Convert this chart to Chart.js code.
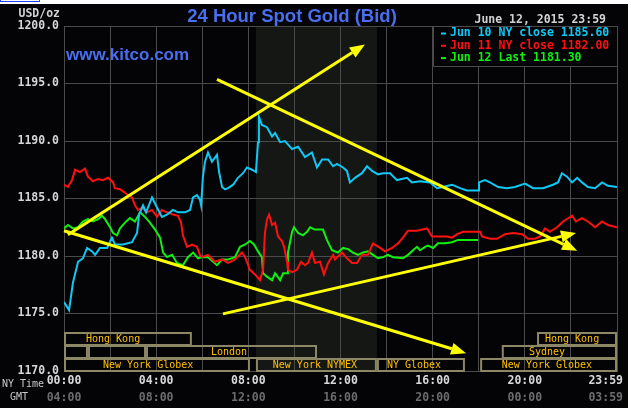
<!DOCTYPE html>
<html>
<head>
<meta charset="utf-8">
<script src="https://cdn.jsdelivr.net/npm/chart.js@4"></script>
<style>
  html, body { margin: 0; padding: 0; background: #ffffff; }
  canvas { display: block; }
</style>
</head>
<body>
<canvas id="goldChart" width="631" height="408"></canvas>
<script>
"use strict";

// Jun 10 NY close (hours NY time / price)
const jun10Times = [0, 0.22, 0.39, 0.61, 0.82, 1.0, 1.22, 1.35, 1.56, 1.87, 2.08, 2.21, 2.56, 2.95, 3.17, 3.26, 3.43, 3.56, 3.82, 4.04,
  4.25, 4.47, 4.73, 4.95, 5.25, 5.47, 5.6, 5.77, 5.9, 5.95, 6.03, 6.12, 6.25, 6.42, 6.64, 6.73, 6.86, 6.99, 7.12, 7.34,
  7.55, 7.77, 7.94, 8.16, 8.33, 8.42, 8.46, 8.59, 8.81, 9.03, 9.16, 9.38, 9.59, 9.9, 10.16, 10.46, 10.76, 10.98, 11.2, 11.46,
  11.68, 11.85, 12.11, 12.28, 12.41, 12.63, 12.93, 13.15, 13.37, 13.63, 13.85, 14.15, 14.45, 14.89, 15.1, 15.45, 15.89, 16.19, 16.45, 16.84,
  17.19, 17.49, 17.97, 18.01, 18.27, 18.49, 18.84, 19.23, 19.57, 20.01, 20.36, 20.79, 21.22, 21.44, 21.61, 21.83, 22.05, 22.27, 22.48, 22.74,
  23.05, 23.35, 23.61, 24];
const jun10Prices = [1176.0, 1175.3, 1177.7, 1179.5, 1179.8, 1180.7, 1180.4, 1180.1, 1180.7, 1180.7, 1181.6, 1181.0, 1181.0, 1181.2, 1182.0, 1183.6, 1184.4, 1183.8, 1185.1, 1184.2,
  1183.4, 1183.6, 1184.0, 1183.8, 1183.8, 1184.0, 1185.1, 1185.3, 1184.9, 1184.4, 1186.9, 1188.2, 1189.0, 1188.2, 1188.8, 1187.3, 1186.0, 1185.8, 1185.9, 1186.2,
  1186.8, 1187.2, 1187.7, 1187.5, 1187.3, 1189.9, 1192.1, 1191.4, 1191.2, 1190.4, 1190.7, 1189.9, 1190.0, 1189.3, 1189.5, 1188.6, 1189.0, 1187.7, 1188.4, 1188.4,
  1187.8, 1188.0, 1187.7, 1187.4, 1186.4, 1186.8, 1187.2, 1187.8, 1187.4, 1187.1, 1187.2, 1187.2, 1186.6, 1186.8, 1186.4, 1186.5, 1186.4, 1185.9, 1186.0, 1186.2,
  1185.9, 1185.7, 1185.7, 1186.4, 1186.6, 1186.4, 1186.0, 1185.9, 1186.0, 1186.3, 1185.9, 1185.9, 1186.2, 1186.4, 1187.2, 1186.9, 1186.4, 1186.8, 1186.4, 1186.0,
  1185.9, 1186.4, 1186.1, 1186.0];

// Jun 11 NY close
const jun11Times = [0, 0.17, 0.35, 0.48, 0.69, 0.91, 1.04, 1.26, 1.48, 1.69, 1.91, 2.13, 2.21, 2.43, 2.65, 2.78, 2.95, 3.08, 3.21, 3.39,
  3.6, 3.82, 4.04, 4.25, 4.47, 4.73, 4.95, 5.08, 5.16, 5.34, 5.56, 5.77, 5.9, 5.99, 6.25, 6.55, 6.86, 7.12, 7.42, 7.73,
  7.86, 8.07, 8.29, 8.51, 8.64, 8.72, 8.81, 8.9, 9.03, 9.16, 9.29, 9.46, 9.55, 9.68, 9.72, 9.9, 10.11, 10.29, 10.46, 10.59,
  10.76, 10.89, 11.11, 11.28, 11.46, 11.68, 11.76, 12.07, 12.28, 12.5, 12.72, 12.93, 13.19, 13.41, 13.72, 13.93, 14.24, 14.5, 14.71, 14.93,
  15.32, 15.76, 15.97, 16.19, 16.62, 16.84, 17.06, 17.32, 18.06, 18.14, 18.49, 18.79, 19.14, 19.49, 19.88, 20.14, 20.44, 20.66, 20.88, 21.09,
  21.4, 21.66, 22.05, 22.22, 22.48, 22.74, 23.05, 23.35, 23.61, 24];
const jun11Prices = [1186.2, 1186.0, 1186.6, 1187.5, 1187.3, 1187.6, 1186.9, 1186.5, 1186.7, 1186.6, 1186.8, 1186.4, 1185.9, 1185.8, 1185.5, 1185.3, 1185.1, 1184.4, 1184.0, 1184.2,
  1183.8, 1184.0, 1183.4, 1184.0, 1183.8, 1183.6, 1183.5, 1182.9, 1181.8, 1180.8, 1181.0, 1180.8, 1180.1, 1179.9, 1180.1, 1179.5, 1179.7, 1179.4, 1179.7, 1180.3,
  1179.9, 1178.8, 1178.4, 1177.9, 1178.8, 1182.0, 1183.2, 1183.6, 1182.7, 1182.9, 1181.7, 1181.3, 1180.8, 1179.5, 1178.8, 1178.6, 1178.8, 1179.5, 1179.2, 1179.4,
  1180.3, 1179.4, 1179.5, 1178.4, 1179.4, 1180.1, 1179.7, 1180.3, 1179.8, 1179.4, 1179.4, 1180.1, 1180.1, 1181.1, 1180.7, 1180.4, 1180.7, 1181.1, 1181.6, 1182.2,
  1182.2, 1182.4, 1181.7, 1181.7, 1181.7, 1181.6, 1181.9, 1182.1, 1182.1, 1181.7, 1181.5, 1181.5, 1181.9, 1182.0, 1181.9, 1181.5, 1181.5, 1181.7, 1182.4, 1182.1,
  1182.5, 1183.0, 1183.5, 1183.0, 1183.3, 1183.0, 1182.5, 1183.0, 1182.7, 1182.5];

// Jun 12 last
const jun12Times = [0, 0.17, 0.39, 0.61, 0.82, 1.04, 1.26, 1.48, 1.65, 1.78, 2.0, 2.13, 2.3, 2.43, 2.65, 2.86, 3.08, 3.3, 3.52, 3.73,
  3.95, 4.17, 4.3, 4.47, 4.69, 4.9, 5.16, 5.38, 5.6, 5.82, 5.99, 6.25, 6.64, 6.86, 7.12, 7.42, 7.64, 7.86, 8.07, 8.25,
  8.42, 8.59, 8.64, 8.81, 9.03, 9.16, 9.38, 9.51, 9.68, 9.72, 9.9, 9.98, 10.16, 10.37, 10.55, 10.68, 10.89, 11.24, 11.41, 11.63,
  11.89, 12.11, 12.33, 12.54, 12.76, 12.98, 13.19, 13.41, 13.63, 13.85, 14.06, 14.28, 14.71, 14.93, 15.15, 15.32, 15.45, 15.67, 15.8, 16.02,
  16.23, 16.54, 16.84, 17.1, 17.97];
const jun12Prices = [1182.4, 1182.7, 1182.4, 1182.5, 1183.0, 1183.2, 1183.0, 1183.2, 1183.5, 1183.2, 1182.5, 1182.0, 1181.8, 1182.4, 1182.9, 1183.3, 1183.0, 1183.8, 1183.4, 1182.9,
  1182.3, 1181.6, 1180.3, 1179.9, 1180.1, 1179.4, 1179.2, 1179.9, 1180.3, 1179.8, 1179.9, 1179.9, 1179.2, 1179.7, 1179.7, 1179.9, 1180.8, 1181.0, 1181.3, 1181.0,
  1180.4, 1179.9, 1178.5, 1178.2, 1177.9, 1178.5, 1177.9, 1178.5, 1178.5, 1180.3, 1182.1, 1182.5, 1182.0, 1181.8, 1182.1, 1182.5, 1182.3, 1182.3, 1181.4, 1180.5,
  1180.3, 1180.7, 1180.6, 1180.3, 1180.1, 1180.3, 1180.4, 1180.1, 1179.8, 1179.9, 1180.1, 1179.9, 1179.8, 1180.1, 1180.5, 1180.8, 1180.5, 1180.8, 1180.9, 1180.7,
  1181.1, 1181.1, 1181.2, 1181.4, 1181.4];

const seriesLabels = ['Jun 10 NY close 1185.60', 'Jun 11 NY close 1182.00', 'Jun 12 Last 1181.30'];
const seriesColors = ['#10c8f4', '#ff1010', '#10f010'];

// axis labels
const nyTimeTicks = [0, 4, 8, 12, 16, 20, 24];
const nyTimeLabels = ['00:00', '04:00', '08:00', '12:00', '16:00', '20:00', '23:59'];
const gmtLabels = ['04:00', '08:00', '12:00', '16:00', '20:00', '00:00', '03:59'];

// COMEX pit hours (shaded)
const nymexOpen = 8.33;
const nymexClose = 13.58;

// market session boxes (row 0 top .. row 2 bottom)
const sessionRows = [0, 0, 1, 1, 1, 1, 2, 2, 2, 2];
const sessionStarts = [0, 20.53, 0, 1.04, 3.56, 19.0, 0, 8.33, 13.58, 18.06];
const sessionEnds = [5.55, 24, 1.04, 3.56, 10.98, 24, 8.07, 13.58, 17.4, 24];
const sessionNames = ['Hong Kong', 'Hong Kong', '', '', 'London', 'Sydney', 'New York Globex', 'New York NYMEX', 'NY Globex', 'New York Globex'];
const sessionLabelAt = [2.13, 22.05, 0, 0, 7.16, 20.96, 3.65, 10.89, 15.19, 20.96];

// yellow trend arrows (time, price)
const arrowFromT = [0.17, 0, 6.64, 6.9];
const arrowFromP = [1181.85, 1182.2, 1195.36, 1174.97];
const arrowToT = [13.06, 17.45, 22.27, 22.22];
const arrowToP = [1198.4, 1171.55, 1180.45, 1182.0];

const mono = "'DejaVu Sans Mono', monospace";
const sans = "'Liberation Sans', Arial, sans-serif";

function toPoints(times, prices) {
    return times.map((t, i) => ({ x: t, y: prices[i] }));
}

// Фон, заливка сессии NYMEX
const backgroundPlugin = {
    id: 'kitcoBackground',
    beforeDraw(chart) {
        const ctx = chart.ctx;
        const area = chart.chartArea;
        const xs = chart.scales.x;
        ctx.save();
        ctx.fillStyle = '#ffffff';
        ctx.fillRect(0, 0, chart.width, chart.height);
        ctx.fillStyle = '#040407';
        ctx.fillRect(0, 4, chart.width - 3, chart.height - 4);
        ctx.strokeStyle = '#2040ff';
        ctx.lineWidth = 1;
        ctx.strokeRect(0.5, -1, 39, 2.5);
        const x0 = xs.getPixelForValue(nymexOpen);
        const x1 = xs.getPixelForValue(nymexClose);
        ctx.fillStyle = '#141714';
        ctx.fillRect(x0, area.top, x1 - x0, area.bottom - area.top);
        ctx.restore();
    },
    beforeDatasetsDraw(chart) {
        const ctx = chart.ctx;
        const area = chart.chartArea;
        const xs = chart.scales.x;
        const rowH = 13;
        ctx.save();
        ctx.strokeStyle = '#8c8866';
        ctx.lineWidth = 2;
        ctx.font = '10px ' + mono;
        ctx.fillStyle = '#ffc000';
        ctx.textAlign = 'center';
        ctx.textBaseline = 'middle';
        sessionRows.forEach((row, i) => {
            const top = area.bottom - (3 - row) * rowH;
            const x0 = xs.getPixelForValue(sessionStarts[i]);
            const x1 = xs.getPixelForValue(sessionEnds[i]);
            ctx.strokeRect(x0 + 1, top + 1, x1 - x0 - 2, rowH - 1);
            if (sessionNames[i]) {
                ctx.fillText(sessionNames[i], xs.getPixelForValue(sessionLabelAt[i]), top + rowH / 2 + 1);
            }
        });
        ctx.restore();
    },
    afterDatasetsDraw(chart) {
        const ctx = chart.ctx;
        const xs = chart.scales.x;
        const ys = chart.scales.y;
        ctx.save();
        ctx.strokeStyle = '#ffff00';
        ctx.fillStyle = '#ffff00';
        ctx.lineWidth = 3;
        arrowFromT.forEach((t, i) => {
            const ax = xs.getPixelForValue(t);
            const ay = ys.getPixelForValue(arrowFromP[i]);
            const bx = xs.getPixelForValue(arrowToT[i]);
            const by = ys.getPixelForValue(arrowToP[i]);
            const ang = Math.atan2(by - ay, bx - ax);
            const len = 15, half = 6;
            const baseX = bx - len * Math.cos(ang);
            const baseY = by - len * Math.sin(ang);
            ctx.beginPath();
            ctx.moveTo(ax, ay);
            ctx.lineTo(baseX, baseY);
            ctx.stroke();
            ctx.beginPath();
            ctx.moveTo(bx, by);
            ctx.lineTo(baseX + half * Math.sin(ang), baseY - half * Math.cos(ang));
            ctx.lineTo(baseX - half * Math.sin(ang), baseY + half * Math.cos(ang));
            ctx.closePath();
            ctx.fill();
        });
        ctx.restore();
    },
    afterDraw(chart) {
        const ctx = chart.ctx;
        const area = chart.chartArea;
        const xs = chart.scales.x;
        ctx.save();

        // заголовок
        ctx.fillStyle = '#4a6ef0';
        ctx.font = 'bold 18.5px ' + sans;
        ctx.textAlign = 'center';
        ctx.textBaseline = 'alphabetic';
        ctx.fillText('24 Hour Spot Gold (Bid)', 292, 21.5);
        ctx.font = 'bold 17px ' + sans;
        ctx.textAlign = 'left';
        ctx.fillText('www.kitco.com', 66, 59.5);

        ctx.fillStyle = '#d2d2d2';
        ctx.font = 'bold 11.5px ' + mono;
        ctx.textAlign = 'right';
        ctx.fillText('June 12, 2015 23:59', 606, 23);
        ctx.fillText('USD/oz', 60, 16.5);

        // подписи оси X
        ctx.textBaseline = 'middle';
        nyTimeTicks.forEach((t, i) => {
            const last = i === nyTimeTicks.length - 1;
            const px = xs.getPixelForValue(t) + (last ? 6 : 0);
            ctx.textAlign = last ? 'right' : 'center';
            ctx.fillStyle = '#d8d8d8';
            ctx.fillText(nyTimeLabels[i], px, area.bottom + 10.5);
            ctx.fillStyle = '#6c6c6c';
            ctx.fillText(gmtLabels[i], px, area.bottom + 27);
        });
        ctx.font = '10px ' + mono;
        ctx.fillStyle = '#c8c8c8';
        ctx.textAlign = 'left';
        ctx.fillText('NY Time', 2, area.bottom + 13);
        ctx.fillText('GMT', 10, area.bottom + 26);

        // легенда
        const boxW = 184, boxH = 40;
        const bx = area.right - boxW;
        ctx.fillStyle = '#040407';
        ctx.fillRect(bx, area.top, boxW, boxH);
        ctx.strokeStyle = '#4a4a4a';
        ctx.lineWidth = 1;
        ctx.strokeRect(bx + 0.5, area.top + 0.5, boxW, boxH);
        ctx.font = 'bold 11.5px ' + mono;
        seriesLabels.forEach((label, i) => {
            const y = area.top + 7.5 + i * 12.3;
            ctx.fillStyle = seriesColors[i];
            ctx.fillRect(bx + 8, y - 1, 5, 2);
            ctx.fillText(label, bx + 17, y);
        });
        ctx.restore();
    }
};

function initChart() {
    const ctx = document.getElementById('goldChart').getContext('2d');
    const allSeries = [
        toPoints(jun10Times, jun10Prices),
        toPoints(jun11Times, jun11Prices),
        toPoints(jun12Times, jun12Prices)
    ];

    new Chart(ctx, {
        type: 'line',
        data: {
            datasets: allSeries.map((pts, i) => ({
                label: seriesLabels[i],
                data: pts,
                borderColor: seriesColors[i],
                borderWidth: 2,
                pointRadius: 0,
                tension: 0,
                fill: false
            }))
        },
        options: {
            responsive: false,
            animation: false,
            devicePixelRatio: 1,
            layout: { padding: { top: 26, right: 14, left: 0, bottom: 0 } },
            plugins: {
                legend: { display: false },
                tooltip: { enabled: false }
            },
            scales: {
                x: {
                    type: 'linear',
                    min: 0,
                    max: 24,
                    ticks: { display: false, stepSize: 2 },
                    grid: { color: '#4a4a4a', lineWidth: 1, drawTicks: false },
                    border: { display: true, color: '#4a4a4a' },
                    afterFit: (scale) => { scale.height = 37; }
                },
                y: {
                    min: 1170,
                    max: 1200,
                    ticks: {
                        stepSize: 5,
                        padding: 5,
                        color: '#d6d6d6',
                        font: { family: mono, size: 11.5, weight: 'bold' },
                        callback: (v) => Number(v).toFixed(1)
                    },
                    grid: { color: '#4a4a4a', lineWidth: 1, drawTicks: false },
                    border: { display: true, color: '#4a4a4a' },
                    afterFit: (scale) => { scale.width = 64; }
                }
            }
        },
        plugins: [backgroundPlugin]
    });
}

window.addEventListener('DOMContentLoaded', () => {
    initChart();
});
</script>
</body>
</html>
